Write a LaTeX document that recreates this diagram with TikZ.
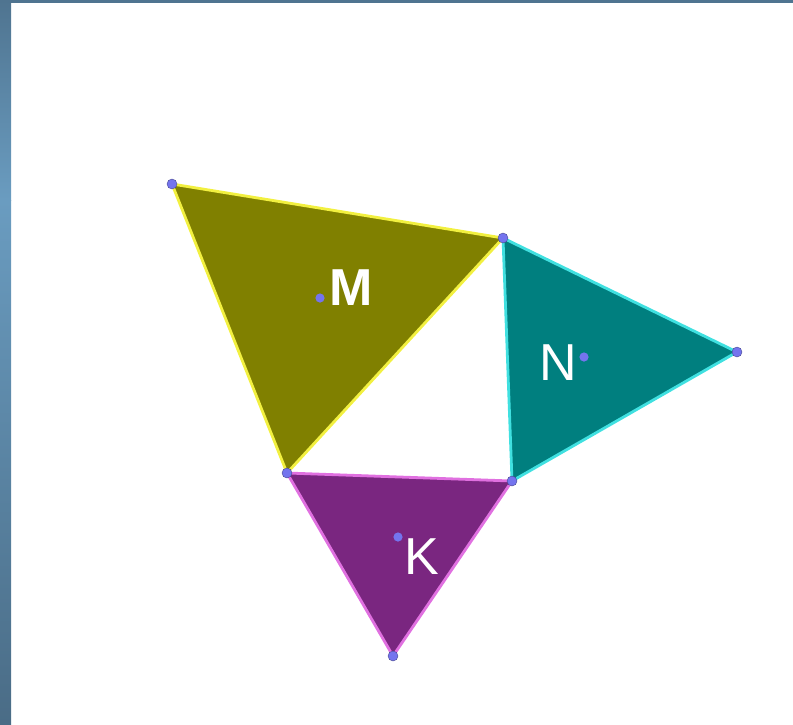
\documentclass[tikz,border=0pt]{standalone}
\usepackage{fontspec}
\setsansfont{Liberation Sans}
\definecolor{olivefill}{HTML}{808000}
\definecolor{tealfill}{HTML}{007F7F}
\definecolor{purplefill}{HTML}{7A2680}
\definecolor{edgeM}{HTML}{F2F040}
\definecolor{edgeN}{HTML}{40E0E0}
\definecolor{edgeK}{HTML}{E070E0}
\definecolor{dotblue}{HTML}{7474EE}
\definecolor{frametop}{HTML}{4F7490}
\definecolor{framemid}{HTML}{6A9CC0}
\definecolor{framelow}{HTML}{4A6C86}
\tikzset{
  tri/.style={line width=2.8pt, line join=round},
  vdot/.style={fill=dotblue, draw=dotblue!60!black, line width=0.4pt},
  lbl/.style={text=white, font=\sffamily\fontsize{52}{52}\selectfont, inner sep=0pt}
}
\begin{document}
\begin{tikzpicture}[x=1pt, y=-1pt]
                \useasboundingbox (0,0) rectangle (793,724);
                % Frame on the left and top
                \shade[top color=frametop, bottom color=framemid] (0,0) rectangle (11,200);
                \shade[top color=framemid, bottom color=framelow] (0,200) rectangle (11,724);
                \fill[frametop] (0,0) rectangle (793,3);

                % Vertices
                \coordinate (A) at (172,184);
                \coordinate (B) at (503,238);
                \coordinate (C) at (287,473);
                \coordinate (D) at (737,352);
                \coordinate (E) at (512,481);
                \coordinate (F) at (393,656);

                % Triangles M, N, K
                \filldraw[tri, fill=olivefill, draw=edgeM] (A) -- (B) -- (C) -- cycle;
                \filldraw[tri, fill=tealfill, draw=edgeN] (B) -- (D) -- (E) -- cycle;
                \filldraw[tri, fill=purplefill, draw=edgeK] (C) -- (E) -- (F) -- cycle;

                % Centres
                \fill[dotblue] (320,298) circle (4.6);
                \fill[dotblue] (584,357) circle (4.6);
                \fill[dotblue] (398,537) circle (4.6);

                % Labels
                \node[lbl, font=\sffamily\bfseries\fontsize{52}{52}\selectfont] (M) at (351,288) {M};
                \node[lbl] (N) at (558,363) {N};
                \node[lbl] (K) at (422,557) {K};

                % Vertex dots
                \foreach \p in {A,B,C,D,E,F}
                  \filldraw[vdot] (\p) circle (5);
            \end{tikzpicture}
\end{document}
